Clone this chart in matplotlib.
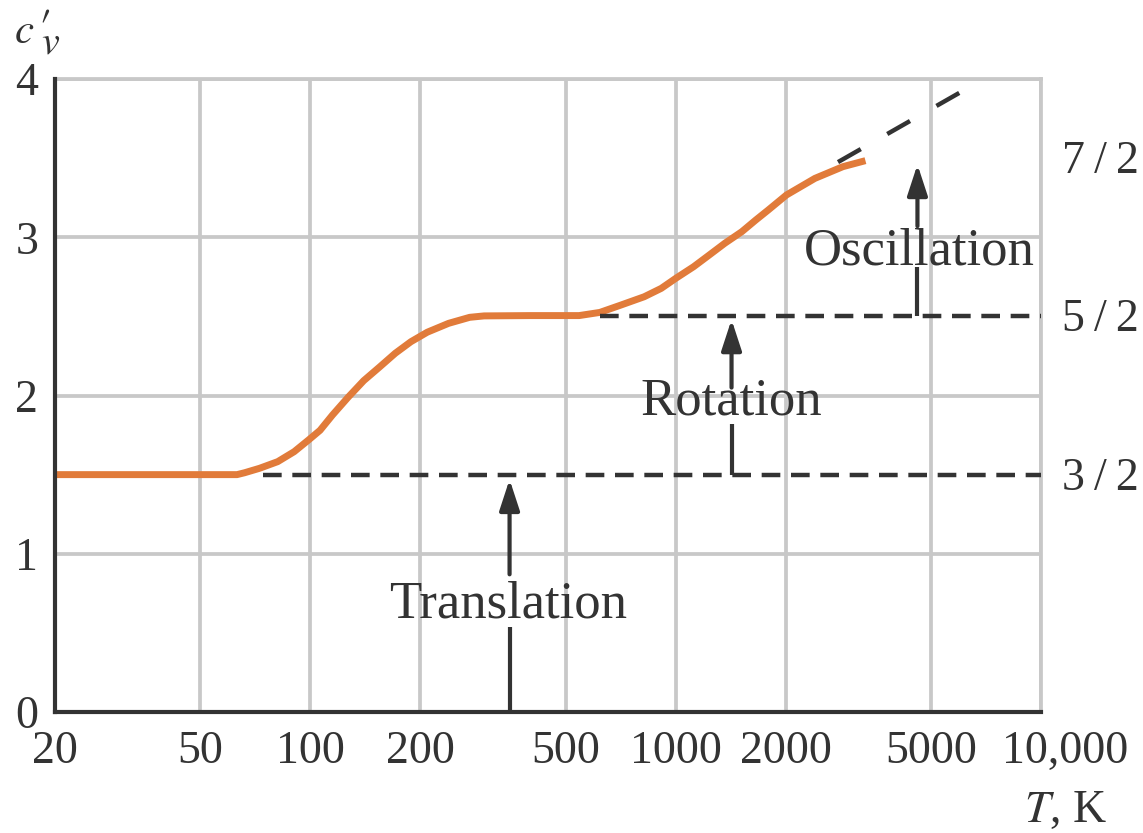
import matplotlib
matplotlib.use('Agg')
import matplotlib.pyplot as plt
from matplotlib.transforms import ScaledTranslation, blended_transform_factory

plt.rcParams['font.family'] = ['Liberation Serif', 'DejaVu Serif']
plt.rcParams['mathtext.fontset'] = 'stix'

# ---- data ----
T_curve = [20, 63, 66.1, 72.6, 81.4, 90.3, 99, 106.3, 115, 127, 140, 154.7, 170.8,
           188.5, 209, 239, 273, 299, 400, 544, 620, 705, 820, 913, 1000, 1120,
           1236, 1363, 1517, 1657, 1792, 2010, 2405, 2869, 3307]
cv_curve = [1.5, 1.5, 1.512, 1.54, 1.582, 1.645, 1.72, 1.78, 1.877, 1.99, 2.094, 2.18, 2.267,
            2.34, 2.40, 2.456, 2.494, 2.503, 2.505, 2.505, 2.525, 2.57, 2.624, 2.677, 2.74, 2.814,
            2.888, 2.962, 3.035, 3.109, 3.172, 3.267, 3.372, 3.446, 3.484]

x_ticks = [20, 50, 100, 200, 500, 1000, 2000, 5000, 10000]
x_tick_labels = ['20', '50', '100', '200', '500', '1000', '2000', '5000', '10,000']
y_ticks = [0, 1, 2, 3, 4]

levels = [1.5, 2.5, 3.5]
level_labels = ['3\u2009/\u20092', '5\u2009/\u20092', '7\u2009/\u20092']

dash_T_start = [74, 620]
dash_T_end = [10000, 10000]
dash_levels = [1.5, 2.5]

diag_T = [2782, 6240]
diag_cv = [3.475, 3.937]

mode_names = ['Translation', 'Rotation', 'Oscillation']
arrow_T = [351, 1422, 4590]
arrow_base = [0, 1.5, 2.5]
arrow_tip = [1.47, 2.48, 3.46]
gap_low = [0.54, 1.82, 2.81]
gap_high = [0.87, 2.05, 3.07]
label_T = [347, 1418, 4650]
label_baseline = [0.60, 1.877, 2.83]

# ---- styling ----
DARK = '#333333'
GRID = '#c8c8c8'
ORANGE = '#e17b3a'

fig = plt.figure(figsize=(11.43, 8.33), dpi=100)
ax = fig.add_axes([55 / 1143, 121 / 833, 986 / 1143, 633 / 833])

ax.set_xscale('log')
ax.set_xlim(20, 10000)
ax.set_ylim(0, 4)
ax.set_xticks(x_ticks)
ax.set_xticklabels(x_tick_labels)
ax.xaxis.set_minor_locator(matplotlib.ticker.NullLocator())
ax.set_yticks(y_ticks)
ax.set_yticklabels([str(v) for v in y_ticks])
ax.tick_params(axis='both', length=0, labelsize=33, colors=DARK)
ax.tick_params(axis='x', pad=13)
ax.tick_params(axis='y', pad=12)

ax.grid(True, color=GRID, lw=2.7, zorder=0)
ax.set_axisbelow(True)
for s in ['left', 'bottom']:
    ax.spines[s].set_color(DARK)
    ax.spines[s].set_linewidth(3)
    ax.spines[s].set_zorder(5)
for s in ['top', 'right']:
    ax.spines[s].set_color(GRID)
    ax.spines[s].set_linewidth(2.7)
    ax.spines[s].set_zorder(0.5)

# shift the "10,000" label like the reference
lbls = ax.get_xticklabels()
lbls[-1].set_transform(lbls[-1].get_transform() + ScaledTranslation(0.24, 0, fig.dpi_scale_trans))

# orange curve
ax.plot(T_curve, cv_curve, color=ORANGE, lw=5, solid_capstyle='butt',
        solid_joinstyle='round', zorder=3)

# dashed level lines
for t0, t1, lv in zip(dash_T_start, dash_T_end, dash_levels):
    ax.plot([t0, t1], [lv, lv], color=DARK, lw=3.2, dashes=(4.2, 2.4), zorder=4,
            clip_on=False)
ax.plot(diag_T, diag_cv, color=DARK, lw=3.2, dashes=(5.9, 6.85), zorder=4, clip_on=False)

# arrows + labels
for name, t, b, tip, gl, gh, lt, lb in zip(mode_names, arrow_T, arrow_base, arrow_tip,
                                           gap_low, gap_high, label_T, label_baseline):
    ax.plot([t, t], [b, gl], color=DARK, lw=3, solid_capstyle='butt', zorder=4)
    ax.annotate('', xy=(t, tip), xytext=(t, gh),
                arrowprops=dict(arrowstyle='-|>,head_length=1.1,head_width=0.36',
                                mutation_scale=17, lw=3, color=DARK,
                                shrinkA=0, shrinkB=0), zorder=4)
    ax.text(lt, lb, name, ha='center', va='baseline', fontsize=38, color=DARK, zorder=6)

# right-hand level labels
btr = blended_transform_factory(ax.transAxes, ax.transData)
for lv, lab in zip(levels, level_labels):
    ax.text(1.021, lv, lab, transform=btr + ScaledTranslation(0, -0.15, fig.dpi_scale_trans),
            ha='left', va='baseline', fontsize=33, color=DARK, clip_on=False)

# axis labels (c, prime, subscript v as in the reference)
fig.text(14 / 1143, (833 - 43) / 833, r"$c$", fontsize=31, color=DARK,
         ha='left', va='baseline')
fig.text(38 / 1143, (833 - 40) / 833, r"$\prime$", fontsize=34, color=DARK,
         ha='left', va='baseline')
fig.text(41 / 1143, (833 - 53) / 833, r"$v$", fontsize=29, color=DARK,
         ha='left', va='baseline')
fig.text(1107 / 1143, (833 - 822) / 833, r"$T$, K", fontsize=33, color=DARK,
         ha='right', va='baseline')

fig.savefig('out.png', dpi=100)
